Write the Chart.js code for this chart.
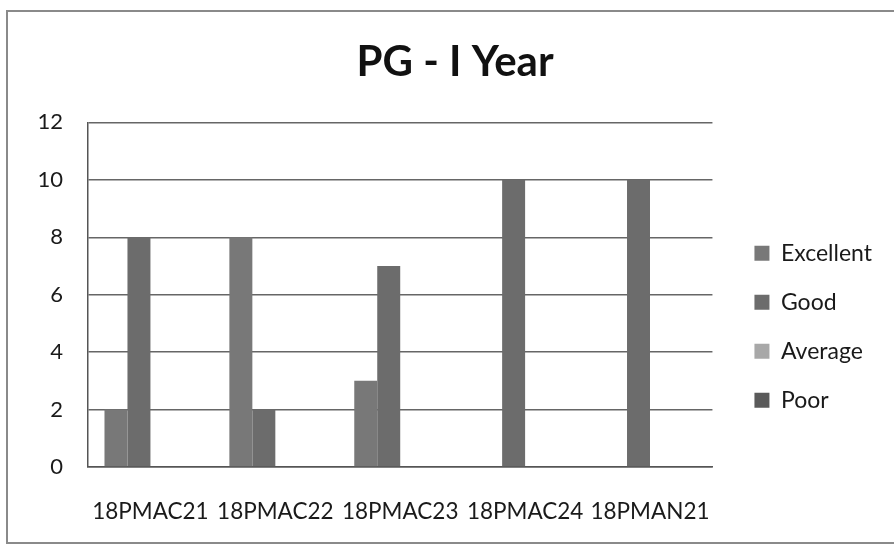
<!DOCTYPE html>
<html>
<head>
<meta charset="utf-8">
<script src="https://cdn.jsdelivr.net/npm/chart.js@4/dist/chart.umd.min.js"></script>
<style>
  html, body { margin: 0; padding: 0; background: #fff; }
  #wrap { position: relative; width: 894px; height: 551px; overflow: hidden; }
  #frame { position: absolute; left: 6px; top: 10px; width: 900px; height: 534px; border: 2px solid #8a8a8a; box-sizing: border-box; }
  canvas { position: absolute; left: 0; top: 0; }
</style>
</head>
<body>
<div id="wrap">
  <div id="frame"></div>
  <canvas id="c" width="894" height="551"></canvas>
</div>
<script>
const categories = ['18PMAC21', '18PMAC22', '18PMAC23', '18PMAC24', '18PMAN21'];
const seriesNames = ['Excellent', 'Good', 'Average', 'Poor'];
const excellent = [2, 8, 3, 0, 0];
const good = [8, 2, 7, 10, 10];
const average = [0, 0, 0, 0, 0];
const poor = [0, 0, 0, 0, 0];
const yTicks = [0, 2, 4, 6, 8, 10, 12];

const colors = ['#787878', '#6c6c6c', '#a8a8a8', '#5a5a5a'];
const values = [excellent, good, average, poor];
const FONT = 'Lato, "Liberation Sans", sans-serif';

// nudge the legend away from the plot area and the title slightly right, as in the reference
const boxShift = {
  id: 'boxShift',
  afterLayout(chart) {
    const l = chart.legend;
    if (l) { l.left += 16; l.right += 16; }
    const t = chart.titleBlock;
    if (t) { t.left += 3; t.right += 3; }
  }
};

new Chart(document.getElementById('c'), {
  type: 'bar',
  data: {
    labels: categories,
    datasets: seriesNames.map((n, i) => ({
      label: n,
      data: values[i],
      backgroundColor: colors[i],
      borderWidth: 0,
      categoryPercentage: 0.736,
      barPercentage: 1.0
    }))
  },
  plugins: [boxShift],
  options: {
    responsive: false,
    animation: false,
    layout: { padding: { left: 38, right: 28, top: 0, bottom: 0 } },
    plugins: {
      title: {
        display: true,
        text: 'PG - I Year',
        color: '#111',
        font: { family: FONT, size: 42, weight: 'bold' },
        padding: { top: 37, bottom: 35 }
      },
      legend: {
        display: true,
        position: 'right',
        align: 'center',
        fullSize: false,
        title: { display: true, text: ' ', font: { size: 10 }, padding: { top: 52, bottom: 0 } },
        labels: {
          boxWidth: 15,
          boxHeight: 15,
          padding: 26,
          color: '#1a1a1a',
          font: { family: FONT, size: 23 }
        }
      },
      tooltip: { enabled: false }
    },
    scales: {
      x: {
        grid: { display: false, drawTicks: false },
        border: { display: true, color: '#555', width: 1.5 },
        ticks: { color: '#1a1a1a', font: { family: FONT, size: 22.5 }, padding: 31, maxRotation: 0, autoSkip: false },
        afterFit: (s) => { s.height = 84; }
      },
      y: {
        min: 0,
        max: 12,
        afterBuildTicks: (s) => { s.ticks = yTicks.map(v => ({ value: v })); },
        grid: { color: '#666666', lineWidth: 1.5, drawTicks: false },
        border: { display: true, color: '#555', width: 1.5 },
        ticks: { color: '#1a1a1a', font: { family: FONT, size: 22 }, padding: 25 },
        afterFit: (s) => { s.width = 50; }
      }
    }
  }
});
</script>
</body>
</html>
